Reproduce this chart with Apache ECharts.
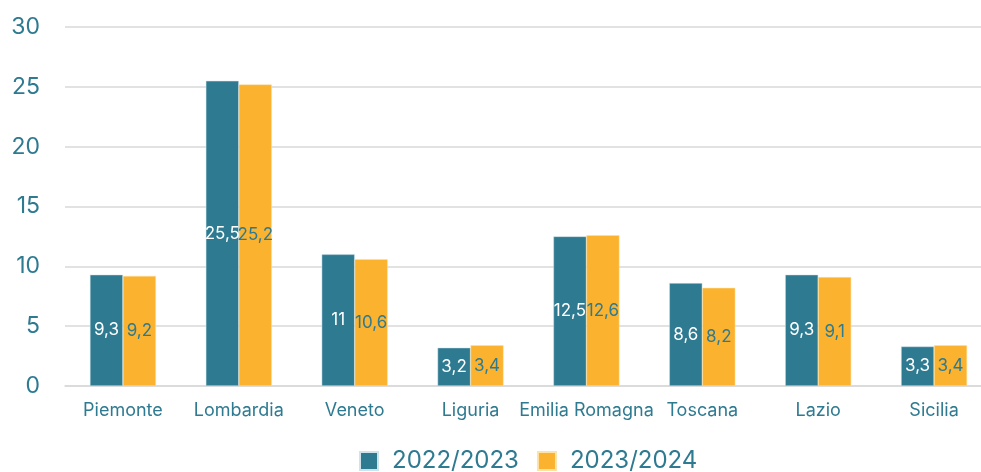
<!DOCTYPE html>
<html><head><meta charset="utf-8">
<script src="https://cdn.jsdelivr.net/npm/echarts@6/dist/echarts.min.js"></script>
<style>html,body{margin:0;padding:0;background:#fff}#c{width:981px;height:472px}</style>
</head><body><div id="c"></div>
<script>
const categories = ['Piemonte','Lombardia','Veneto','Liguria','Emilia Romagna','Toscana','Lazio','Sicilia'];
const series2022 = [9.3,25.5,11,3.2,12.5,8.6,9.3,3.3];
const series2023 = [9.2,25.2,10.6,3.4,12.6,8.2,9.1,3.4];
const seriesNames = ['2022/2023','2023/2024'];
const yTicks = {min:0,max:30,interval:5};
const teal = '#2e7a91', yellow = '#fbb22e';
const fmt = p => String(p.value).replace('.', ',');
const chart = echarts.init(document.getElementById('c'));
chart.setOption({
  animation:false,
  textStyle:{fontFamily:'Inter'},
  grid:{left:65,top:27,width:927,height:359,containLabel:false,outerBoundsMode:'none'},
  legend:{top:449,left:359,itemWidth:18,itemHeight:18,itemGap:18,padding:0,
    textStyle:{color:teal,fontSize:24,fontFamily:'Inter',padding:[0,0,0,9]},
    icon:'rect',data:seriesNames},
  xAxis:{type:'category',data:categories,axisLine:{show:true,lineStyle:{color:'#d9d9d9',width:1.5}},
    axisTick:{show:false},axisLabel:{color:teal,fontSize:18,margin:16,interval:0}},
  yAxis:{type:'value',min:yTicks.min,max:yTicks.max,interval:yTicks.interval,
    axisLine:{show:false},axisTick:{show:false},
    splitLine:{lineStyle:{color:'#d9d9d9',width:1.5}},
    axisLabel:{color:teal,fontSize:23,margin:25}},
  series:[
    {name:seriesNames[0],type:'bar',data:series2022,barWidth:33,barGap:'0%',
     itemStyle:{color:teal,borderColor:'#cfe3ea',borderWidth:0.5},
     label:{show:true,position:'inside',color:'#fff',fontSize:17,formatter:fmt}},
    {name:seriesNames[1],type:'bar',data:series2023,barWidth:33,barGap:'0%',
     itemStyle:{color:yellow,borderColor:'#fde3a8',borderWidth:0.5},
     label:{show:true,position:'inside',color:teal,fontSize:17,formatter:fmt}}
  ]
});
</script></body></html>
